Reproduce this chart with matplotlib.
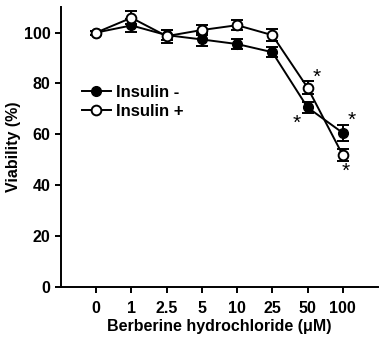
import matplotlib
matplotlib.use("Agg")
from matplotlib import pyplot as plt
import numpy as np

plt.rcParams['font.family'] = ['Liberation Sans', 'DejaVu Sans']
plt.rcParams['font.weight'] = 'bold'

doses = ['0', '1', '2.5', '5', '10', '25', '50', '100']
ins_minus = [100, 102.8, 99.0, 97.3, 95.5, 92.3, 70.6, 60.6]
ins_minus_err = [0.8, 2.5, 2.0, 2.5, 2.0, 2.0, 2.0, 3.0]
ins_plus = [100, 105.8, 98.6, 101.0, 102.9, 99.0, 78.4, 51.9]
ins_plus_err = [0.8, 2.5, 2.5, 2.0, 2.0, 2.5, 2.5, 2.5]

# asterisks (x in category units, y in %)
star_x = [6.7, 7.25, 8.25, 8.07]
star_y = [64.5, 82.5, 65.5, 45.5]

x = np.arange(1, len(doses) + 1)

fig = plt.figure(figsize=(3.81, 3.39), dpi=100)
ax = fig.add_axes([0.160, 0.153, 0.832, 0.826])

ax.errorbar(x, ins_minus, yerr=ins_minus_err, color='black', marker='o',
            markerfacecolor='black', markeredgecolor='black', markersize=7,
            linewidth=1.4, elinewidth=1.4, capsize=4, capthick=1.4,
            label='Insulin -', zorder=3)
ax.errorbar(x, ins_plus, yerr=ins_plus_err, color='black', marker='o',
            markerfacecolor='white', markeredgecolor='black', markersize=7,
            markeredgewidth=1.4, linewidth=1.4, elinewidth=1.4, capsize=4,
            capthick=1.4, label='Insulin +', zorder=4)

for sx, sy in zip(star_x, star_y):
    ax.text(sx, sy, '*', fontsize=15, ha='center', va='center', fontweight='normal')

ax.set_xlim(0, 9)
ax.set_ylim(0, 110)
ax.set_xticks(x)
ax.set_xticklabels(doses)
ax.set_yticks([0, 20, 40, 60, 80, 100])
ax.tick_params(axis='both', direction='out', width=1.4, length=4, labelsize=11.5)
ax.tick_params(axis='x', pad=6)
for lbl in ax.get_xticklabels() + ax.get_yticklabels():
    lbl.set_fontweight('bold')

ax.spines['top'].set_visible(False)
ax.spines['right'].set_visible(False)
ax.spines['left'].set_linewidth(1.4)
ax.spines['bottom'].set_linewidth(1.4)

ax.set_xlabel('Berberine hydrochloride (\u03bcM)', fontsize=11.5, fontweight='bold', labelpad=2)
ax.set_ylabel('Viability (%)', fontsize=11.5, fontweight='bold', labelpad=2)

handles, labels = ax.get_legend_handles_labels()
handles = [h[0] for h in handles]
ax.legend(handles, labels, loc='upper left', bbox_to_anchor=(0.02, 0.775),
          frameon=False, handlelength=1.7, handletextpad=0.3,
          labelspacing=0.25, prop={'weight': 'bold', 'size': 12})

fig.savefig('out.png', dpi=100)
